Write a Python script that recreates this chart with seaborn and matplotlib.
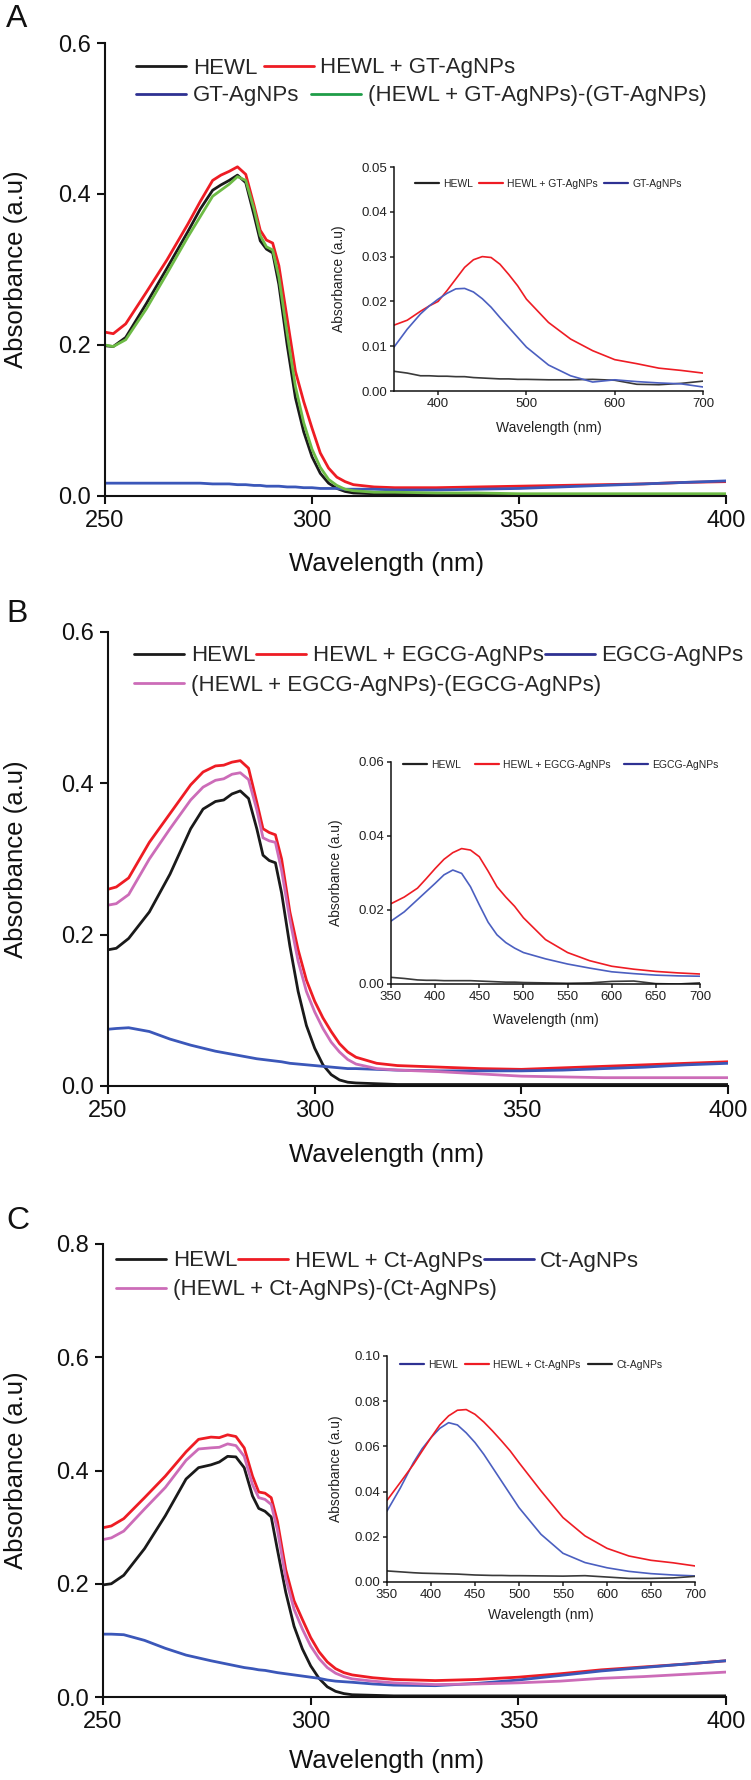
import numpy as np
import pandas as pd
import matplotlib
matplotlib.use("Agg")
import matplotlib.pyplot as plt
from matplotlib.lines import Line2D
from matplotlib.ticker import FormatStrFormatter
import seaborn as sns

# ---------------- data ----------------
wl_main = [250, 252, 255, 260, 265, 270, 273, 276, 278, 280, 282, 284, 286, 287.5, 289,
           290.5, 292, 294, 296, 298, 300, 302, 304, 306, 308, 310, 315, 320, 330, 340,
           350, 360, 370, 380, 390, 400]

# Panel A
a_hewl = [0.199, 0.198, 0.210, 0.255, 0.302, 0.350, 0.380, 0.405, 0.412, 0.418, 0.425, 0.415,
          0.372, 0.338, 0.327, 0.322, 0.280, 0.200, 0.130, 0.085, 0.052, 0.030, 0.017, 0.010,
          0.006, 0.004, 0.003, 0.003, 0.002, 0.002, 0.002, 0.002, 0.002, 0.002, 0.002, 0.002]
a_hewl_np = [0.217, 0.215, 0.228, 0.270, 0.313, 0.360, 0.390, 0.418, 0.425, 0.430, 0.436, 0.426,
             0.385, 0.352, 0.339, 0.335, 0.305, 0.235, 0.165, 0.125, 0.090, 0.057, 0.037, 0.025,
             0.019, 0.015, 0.012, 0.011, 0.011, 0.012, 0.013, 0.014, 0.015, 0.016, 0.018, 0.019]
a_np = [0.017, 0.017, 0.017, 0.017, 0.017, 0.017, 0.017, 0.016, 0.016, 0.016, 0.015, 0.015,
        0.014, 0.014, 0.013, 0.013, 0.013, 0.012, 0.012, 0.011, 0.011, 0.010, 0.010, 0.010,
        0.009, 0.009, 0.009, 0.008, 0.008, 0.009, 0.010, 0.012, 0.014, 0.016, 0.018, 0.020]
a_diff = [0.200, 0.198, 0.207, 0.248, 0.295, 0.343, 0.370, 0.397, 0.405, 0.413, 0.423, 0.418,
          0.380, 0.345, 0.330, 0.326, 0.290, 0.215, 0.145, 0.097, 0.062, 0.038, 0.022, 0.014,
          0.009, 0.007, 0.005, 0.005, 0.004, 0.004, 0.003, 0.003, 0.003, 0.003, 0.003, 0.003]

# Panel B
b_hewl = [0.180, 0.182, 0.195, 0.230, 0.280, 0.340, 0.366, 0.376, 0.378, 0.386, 0.390, 0.380,
          0.340, 0.305, 0.298, 0.295, 0.255, 0.185, 0.125, 0.080, 0.050, 0.028, 0.015, 0.008,
          0.005, 0.004, 0.003, 0.002, 0.002, 0.002, 0.002, 0.002, 0.002, 0.002, 0.002, 0.002]
b_hewl_np = [0.260, 0.263, 0.275, 0.322, 0.360, 0.398, 0.415, 0.423, 0.424, 0.428, 0.430, 0.420,
             0.375, 0.340, 0.335, 0.332, 0.300, 0.230, 0.180, 0.140, 0.112, 0.090, 0.072, 0.056,
             0.045, 0.038, 0.030, 0.027, 0.025, 0.023, 0.022, 0.024, 0.026, 0.028, 0.030, 0.032]
b_np = [0.075, 0.076, 0.077, 0.072, 0.062, 0.054, 0.050, 0.046, 0.044, 0.042, 0.040, 0.038,
        0.036, 0.035, 0.034, 0.033, 0.032, 0.030, 0.029, 0.028, 0.027, 0.026, 0.025, 0.024,
        0.023, 0.023, 0.022, 0.021, 0.020, 0.020, 0.020, 0.021, 0.023, 0.025, 0.028, 0.030]
b_diff = [0.239, 0.241, 0.253, 0.300, 0.340, 0.378, 0.395, 0.404, 0.406, 0.412, 0.414, 0.405,
          0.365, 0.328, 0.324, 0.322, 0.285, 0.220, 0.165, 0.125, 0.098, 0.076, 0.058, 0.045,
          0.035, 0.029, 0.023, 0.021, 0.019, 0.016, 0.013, 0.012, 0.011, 0.011, 0.011, 0.011]

# Panel C
c_hewl = [0.198, 0.200, 0.215, 0.262, 0.320, 0.385, 0.405, 0.410, 0.415, 0.425, 0.424, 0.405,
          0.355, 0.333, 0.328, 0.318, 0.260, 0.185, 0.125, 0.085, 0.055, 0.033, 0.018, 0.010,
          0.006, 0.004, 0.003, 0.002, 0.002, 0.002, 0.002, 0.002, 0.002, 0.002, 0.002, 0.002]
c_hewl_np = [0.299, 0.302, 0.315, 0.352, 0.390, 0.433, 0.455, 0.459, 0.458, 0.463, 0.460, 0.440,
             0.390, 0.362, 0.360, 0.352, 0.310, 0.225, 0.170, 0.137, 0.105, 0.080, 0.062, 0.050,
             0.043, 0.039, 0.034, 0.031, 0.029, 0.031, 0.035, 0.041, 0.048, 0.053, 0.058, 0.064]
c_np = [0.111, 0.111, 0.110, 0.100, 0.086, 0.074, 0.069, 0.064, 0.061, 0.058, 0.055, 0.052,
        0.050, 0.048, 0.047, 0.045, 0.043, 0.041, 0.039, 0.037, 0.035, 0.033, 0.030, 0.028,
        0.027, 0.026, 0.023, 0.021, 0.020, 0.024, 0.030, 0.038, 0.046, 0.052, 0.058, 0.064]
c_diff = [0.278, 0.281, 0.293, 0.332, 0.370, 0.418, 0.438, 0.440, 0.441, 0.447, 0.444, 0.425,
          0.375, 0.352, 0.349, 0.340, 0.295, 0.210, 0.155, 0.120, 0.090, 0.068, 0.052, 0.042,
          0.036, 0.032, 0.028, 0.025, 0.022, 0.023, 0.025, 0.028, 0.033, 0.036, 0.040, 0.044]

# Insets
wl_inset = [350, 365, 380, 390, 400, 410, 420, 430, 440, 450, 460, 470, 480, 490, 500,
            525, 550, 575, 600, 625, 650, 675, 700]

ia_hewl = [0.0044, 0.0040, 0.0034, 0.0034, 0.0033, 0.0033, 0.0032, 0.0032, 0.0030, 0.0029,
           0.0028, 0.0027, 0.0027, 0.0026, 0.0026, 0.0025, 0.0025, 0.0026, 0.0024, 0.0015,
           0.0014, 0.0017, 0.0022]
ia_hewl_np = [0.0147, 0.0158, 0.0178, 0.0190, 0.0200, 0.0224, 0.0250, 0.0276, 0.0293, 0.0300,
              0.0298, 0.0283, 0.0260, 0.0235, 0.0205, 0.0153, 0.0116, 0.0090, 0.0070, 0.0061,
              0.0051, 0.0046, 0.0040]
ia_np = [0.0098, 0.0138, 0.0172, 0.0190, 0.0205, 0.0218, 0.0228, 0.0229, 0.0221, 0.0206,
         0.0187, 0.0164, 0.0142, 0.0120, 0.0098, 0.0058, 0.0034, 0.0020, 0.0025, 0.0021,
         0.0018, 0.0016, 0.0009]

ib_hewl = [0.0018, 0.0015, 0.0011, 0.0010, 0.0010, 0.0009, 0.0009, 0.0009, 0.0009, 0.0008,
           0.0007, 0.0006, 0.0005, 0.0005, 0.0004, 0.0003, 0.0002, 0.0003, 0.0007, 0.0008,
           0.0001, 0.0000, 0.0003]
ib_hewl_np = [0.0217, 0.0235, 0.0259, 0.0285, 0.0312, 0.0337, 0.0355, 0.0366, 0.0362, 0.0344,
              0.0305, 0.0263, 0.0235, 0.0210, 0.0179, 0.0120, 0.0085, 0.0063, 0.0048, 0.0040,
              0.0034, 0.0030, 0.0027]
ib_np = [0.0170, 0.0195, 0.0228, 0.0250, 0.0272, 0.0295, 0.0308, 0.0299, 0.0263, 0.0214,
         0.0167, 0.0133, 0.0112, 0.0097, 0.0085, 0.0068, 0.0054, 0.0043, 0.0033, 0.0028,
         0.0024, 0.0022, 0.0021]

ic_hewl = [0.0314, 0.0415, 0.0528, 0.0590, 0.0639, 0.0680, 0.0705, 0.0695, 0.0660, 0.0617,
           0.0565, 0.0506, 0.0447, 0.0388, 0.0329, 0.0211, 0.0127, 0.0086, 0.0063, 0.0047,
           0.0037, 0.0031, 0.0027]
ic_hewl_np = [0.0361, 0.0440, 0.0520, 0.0580, 0.0639, 0.0695, 0.0735, 0.0760, 0.0763, 0.0742,
              0.0708, 0.0668, 0.0625, 0.0580, 0.0528, 0.0403, 0.0285, 0.0204, 0.0149, 0.0115,
              0.0096, 0.0085, 0.0071]
ic_np = [0.0049, 0.0045, 0.0041, 0.0039, 0.0038, 0.0037, 0.0036, 0.0035, 0.0033, 0.0031,
         0.0030, 0.0029, 0.0029, 0.0028, 0.0028, 0.0027, 0.0026, 0.0028, 0.0022, 0.0016,
         0.0016, 0.0018, 0.0025]

main_xticks = [250, 300, 350, 400]

# ---------------- style ----------------
sns.set_theme(style="ticks")
plt.rcParams['font.family'] = ['Liberation Sans', 'DejaVu Sans']
plt.rcParams['axes.edgecolor'] = '#111111'

W, H = 751, 1780
fig = plt.figure(figsize=(W / 100, H / 100), dpi=100)


def rect(l, r, t, b):
    return [l / W, 1 - b / H, (r - l) / W, (b - t) / H]


def fxy(x, y):
    return (x / W, 1 - y / H)


BLACK = '#1a1a1a'
RED = '#ee1c24'
BLUE = '#3b57b9'
NAVY = '#2e3192'
GREEN = '#6dbb45'
GREEN_LEG = '#1f9d48'
PINK = '#cc6cb8'

LEG_FS = 16
LEG_HL = 2.25
LEG_HTP = 0.3


def long_df(wl, series):
    frames = []
    for name, vals in series.items():
        frames.append(pd.DataFrame({'Wavelength': wl, 'Absorbance': vals, 'Series': name}))
    return pd.concat(frames, ignore_index=True)


def main_panel(rc, series, palette, ymax, yticks, xlab_px):
    l, r, t, b = rc
    ax = fig.add_axes(rect(*rc))
    df = long_df(wl_main, series)
    sns.lineplot(data=df, x='Wavelength', y='Absorbance', hue='Series',
                 hue_order=list(series.keys()), palette=palette, linewidth=2.0,
                 legend=False, ax=ax, errorbar=None)
    ax.set_xlim(250, 400)
    ax.set_ylim(0, ymax)
    ax.set_xticks(main_xticks)
    ax.set_yticks(yticks)
    ax.yaxis.set_major_formatter(FormatStrFormatter('%.1f'))
    sns.despine(ax=ax)
    for s in ('left', 'bottom'):
        ax.spines[s].set_linewidth(1.5)
        ax.spines[s].set_color('#111111')
    ax.tick_params(axis='both', direction='out', length=6, width=1.5,
                   labelsize=17, colors='#111111', pad=4)
    ax.set_xlabel('Wavelength (nm)', fontsize=18.5, color='#111111')
    ax.set_ylabel('Absorbance (a.u)', fontsize=18.5, color='#111111')
    ax.xaxis.set_label_coords((387 - l) / (r - l), -(xlab_px - b) / (b - t))
    ax.yaxis.set_label_coords((28 - l) / (r - l), 0.5)
    ax.patch.set_alpha(0)
    return ax


def inset_panel(rc, series, palette, ymax, yticks, xticks, xlab_px, ylab_px):
    l, r, t, b = rc
    ax = fig.add_axes(rect(*rc))
    df = long_df(wl_inset, series)
    sns.lineplot(data=df, x='Wavelength', y='Absorbance', hue='Series',
                 hue_order=list(series.keys()), palette=palette, linewidth=1.2,
                 legend=False, ax=ax, errorbar=None)
    ax.set_xlim(350, 700)
    ax.set_ylim(0, ymax)
    ax.set_xticks(xticks)
    ax.set_yticks(yticks)
    ax.yaxis.set_major_formatter(FormatStrFormatter('%.2f'))
    sns.despine(ax=ax)
    for s in ('left', 'bottom'):
        ax.spines[s].set_linewidth(1.1)
        ax.spines[s].set_color('#111111')
    ax.tick_params(axis='both', direction='out', length=3, width=1.1,
                   labelsize=9.5, colors='#222222', pad=2)
    ax.set_xlabel('Wavelength (nm)', fontsize=10, color='#222222')
    ax.set_ylabel('Absorbance (a.u)', fontsize=10, color='#222222')
    ax.xaxis.set_label_coords(0.5, -(xlab_px - b) / (b - t))
    ax.yaxis.set_label_coords((ylab_px - l) / (r - l), 0.5)
    ax.patch.set_alpha(0)
    return ax


def row_legend(handles, labels, x, y, fs, hl, htp, cs):
    fig.legend(handles, labels, loc='center left', bbox_to_anchor=fxy(x, y),
               bbox_transform=fig.transFigure, ncol=len(handles), frameon=False,
               fontsize=fs, handlelength=hl, handletextpad=htp, columnspacing=cs,
               borderpad=0, borderaxespad=0)


def h(color, lw=2.0):
    return Line2D([], [], color=color, lw=lw)


# ---------------- Panel A ----------------
axA = main_panel((105, 726, 43, 496),
                 {'HEWL': a_hewl, 'HEWL + GT-AgNPs': a_hewl_np, 'GT-AgNPs': a_np,
                  '(HEWL + GT-AgNPs)-(GT-AgNPs)': a_diff},
                 {'HEWL': BLACK, 'HEWL + GT-AgNPs': RED, 'GT-AgNPs': BLUE,
                  '(HEWL + GT-AgNPs)-(GT-AgNPs)': GREEN},
                 0.6, [0.0, 0.2, 0.4, 0.6], 552)
row_legend([h(BLACK), h(RED)], ['HEWL', 'HEWL + GT-AgNPs'],
           136, 68, LEG_FS, LEG_HL, LEG_HTP, 0.3)
row_legend([h(NAVY), h(GREEN_LEG)], ['GT-AgNPs', '(HEWL + GT-AgNPs)-(GT-AgNPs)'],
           136, 96, LEG_FS, LEG_HL, LEG_HTP, 0.55)

iA = inset_panel((394, 703, 167, 391),
                 {'HEWL': ia_hewl, 'HEWL + GT-AgNPs': ia_hewl_np, 'GT-AgNPs': ia_np},
                 {'HEWL': '#3a3a3a', 'HEWL + GT-AgNPs': RED, 'GT-AgNPs': '#4b5fc0'},
                 0.05, [0.0, 0.01, 0.02, 0.03, 0.04, 0.05], [400, 500, 600, 700], 421, 346)
row_legend([h('#222222', 1.6), h(RED, 1.6), h(NAVY, 1.6)],
           ['HEWL', 'HEWL + GT-AgNPs', 'GT-AgNPs'], 415, 184, 7.5, 2.3, 0.4, 0.6)

# ---------------- Panel B ----------------
axB = main_panel((108, 728, 632, 1086),
                 {'HEWL': b_hewl, 'HEWL + EGCG-AgNPs': b_hewl_np, 'EGCG-AgNPs': b_np,
                  '(HEWL + EGCG-AgNPs)-(EGCG-AgNPs)': b_diff},
                 {'HEWL': BLACK, 'HEWL + EGCG-AgNPs': RED, 'EGCG-AgNPs': BLUE,
                  '(HEWL + EGCG-AgNPs)-(EGCG-AgNPs)': PINK},
                 0.6, [0.0, 0.2, 0.4, 0.6], 1143)
row_legend([h(BLACK), h(RED), h(NAVY)], ['HEWL', 'HEWL + EGCG-AgNPs', 'EGCG-AgNPs'],
           134, 656, LEG_FS, LEG_HL, LEG_HTP, 0.05)
row_legend([h(PINK)], ['(HEWL + EGCG-AgNPs)-(EGCG-AgNPs)'],
           134, 685, LEG_FS, LEG_HL, LEG_HTP, 0.3)

iB = inset_panel((391, 700, 762, 984),
                 {'HEWL': ib_hewl, 'HEWL + EGCG-AgNPs': ib_hewl_np, 'EGCG-AgNPs': ib_np},
                 {'HEWL': '#3a3a3a', 'HEWL + EGCG-AgNPs': RED, 'EGCG-AgNPs': '#4b5fc0'},
                 0.06, [0.0, 0.02, 0.04, 0.06], [350, 400, 450, 500, 550, 600, 650, 700],
                 1013, 343)
row_legend([h('#222222', 1.6), h(RED, 1.6), h(NAVY, 1.6)],
           ['HEWL', 'HEWL + EGCG-AgNPs', 'EGCG-AgNPs'], 403, 765, 7.5, 2.3, 0.4, 1.3)

# ---------------- Panel C ----------------
axC = main_panel((103, 726, 1244, 1697),
                 {'HEWL': c_hewl, 'HEWL + Ct-AgNPs': c_hewl_np, 'Ct-AgNPs': c_np,
                  '(HEWL + Ct-AgNPs)-(Ct-AgNPs)': c_diff},
                 {'HEWL': BLACK, 'HEWL + Ct-AgNPs': RED, 'Ct-AgNPs': BLUE,
                  '(HEWL + Ct-AgNPs)-(Ct-AgNPs)': PINK},
                 0.8, [0.0, 0.2, 0.4, 0.6, 0.8], 1749)
row_legend([h(BLACK), h(RED), h(NAVY)], ['HEWL', 'HEWL + Ct-AgNPs', 'Ct-AgNPs'],
           116, 1261, LEG_FS, LEG_HL, LEG_HTP, 0.05)
row_legend([h(PINK)], ['(HEWL + Ct-AgNPs)-(Ct-AgNPs)'],
           116, 1290, LEG_FS, LEG_HL, LEG_HTP, 0.3)

iC = inset_panel((387, 695, 1356, 1582),
                 {'HEWL': ic_hewl, 'HEWL + Ct-AgNPs': ic_hewl_np, 'Ct-AgNPs': ic_np},
                 {'HEWL': '#4b5fc0', 'HEWL + Ct-AgNPs': RED, 'Ct-AgNPs': '#3a3a3a'},
                 0.10, [0.0, 0.02, 0.04, 0.06, 0.08, 0.10],
                 [350, 400, 450, 500, 550, 600, 650, 700], 1608, 343)
row_legend([h(NAVY, 1.6), h(RED, 1.6), h('#222222', 1.6)],
           ['HEWL', 'HEWL + Ct-AgNPs', 'Ct-AgNPs'], 400, 1365, 7.5, 2.3, 0.4, 0.7)

# ---------------- panel letters ----------------
for letter, y in (('A', 19), ('B', 614), ('C', 1221)):
    fig.text(*fxy(6, y), letter, fontsize=23, va='center', ha='left', color='#111111')

fig.savefig('out.png', dpi=100)
